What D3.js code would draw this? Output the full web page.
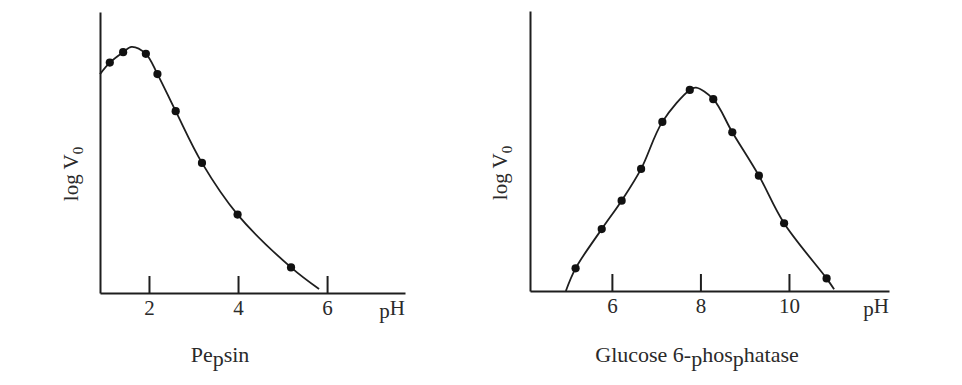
<!DOCTYPE html>
<html>
<head>
<meta charset="utf-8">
<script src="https://cdn.jsdelivr.net/npm/d3@7"></script>
<style>
  html, body { margin: 0; padding: 0; background: #fff; }
  svg { display: block; }
  text { font-family: "Liberation Serif", "DejaVu Serif", serif; fill: #2a2a2a; }
</style>
</head>
<body>
<svg id="chart" width="962" height="385"></svg>
<script>
// ---- Pepsin panel data ----
const pepsinPH      = [1.12, 1.42, 1.93, 2.19, 2.60, 3.19, 3.99, 5.19];
const pepsinLogV    = [0.820, 0.857, 0.851, 0.779, 0.647, 0.463, 0.279, 0.091];
const pepsinCurvePH   = [0.90, 1.12, 1.42, 1.61, 1.93, 2.19, 2.60, 3.19, 3.99, 5.19, 5.82];
const pepsinCurveLogV = [0.779, 0.820, 0.857, 0.876, 0.851, 0.779, 0.647, 0.463, 0.279, 0.091, 0.014];
const pepsinTicks   = [2, 4, 6];

// ---- Glucose 6-phosphatase panel data ----
const g6pPH      = [5.18, 5.77, 6.22, 6.66, 7.14, 7.76, 8.29, 8.72, 9.32, 9.89, 10.85];
const g6pLogV    = [0.081, 0.221, 0.3225, 0.436, 0.604, 0.718, 0.685, 0.567, 0.412, 0.242, 0.045];
const g6pCurvePH   = [4.96, 5.18, 5.77, 6.22, 6.66, 7.14, 7.76, 7.90, 8.29, 8.72, 9.32, 9.89, 10.85, 11.02];
const g6pCurveLogV = [0.000, 0.081, 0.221, 0.3225, 0.436, 0.604, 0.718, 0.726, 0.685, 0.567, 0.412, 0.242, 0.045, 0.006];
const g6pTicks   = [6, 8, 10];

const svg = d3.select("#chart");
const ink = "#1e1e1e";

function panel(cfg) {
  const g = svg.append("g");
  const x = d3.scaleLinear().domain(cfg.xDomain).range([cfg.left, cfg.right]);
  const y = d3.scaleLinear().domain([0, 1]).range([cfg.bottom, cfg.top]);

  // y axis (plain line)
  const ya = g.append("g").attr("transform", `translate(${cfg.left},0)`)
    .call(d3.axisLeft(y).ticks(0).tickSizeOuter(0));
  ya.select(".domain").attr("stroke", ink).attr("stroke-width", 2);

  // x axis with ticks pointing up
  const xa = g.append("g").attr("transform", `translate(0,${cfg.bottom})`)
    .call(d3.axisBottom(x).tickValues(cfg.ticks).tickFormat(d3.format("d"))
      .tickSizeInner(-17).tickSizeOuter(0).tickPadding(7));
  xa.select(".domain").attr("stroke", ink).attr("stroke-width", 2);
  xa.selectAll(".tick line").attr("stroke", ink).attr("stroke-width", 2);
  xa.selectAll(".tick text").attr("fill", "#2a2a2a")
    .style("font-family", '"Liberation Serif", serif').style("font-size", "21px");

  // curve
  const pts = cfg.curvePH.map((p, i) => [p, cfg.curveLogV[i]]);
  g.append("path").datum(pts)
    .attr("fill", "none").attr("stroke", ink).attr("stroke-width", 1.8)
    .attr("d", d3.line().x(d => x(d[0])).y(d => y(d[1])).curve(d3.curveCatmullRom.alpha(0.5)));

  // data points
  g.selectAll("circle.pt").data(cfg.ph.map((p, i) => [p, cfg.logv[i]])).join("circle")
    .attr("class", "pt").attr("cx", d => x(d[0])).attr("cy", d => y(d[1]))
    .attr("r", 4.1).attr("fill", "#111");

  // pH label (p slightly lowered, as in the source)
  const ph = g.append("text").attr("x", cfg.right).attr("y", cfg.bottom + 22)
    .attr("text-anchor", "end").style("font-size", "21px");
  ph.append("tspan").attr("dy", 3).text("p");
  ph.append("tspan").attr("dy", -3).text("H");

  // y label log V0
  const yl = g.append("text")
    .attr("transform", `translate(${cfg.ylabX},${cfg.ylabY}) rotate(-90)`)
    .attr("text-anchor", "middle").style("font-size", "21px");
  yl.append("tspan").text("log V");
  yl.append("tspan").attr("dy", 5).style("font-size", "15px").text("0");

  // title with lowered p's
  const t = g.append("text").attr("x", cfg.titleX).attr("y", 362)
    .attr("text-anchor", "middle").style("font-size", "22px");
  let prev = 0;
  cfg.titleParts.forEach(part => {
    const off = part === "p" ? 4 : 0;
    t.append("tspan").attr("dy", off - prev).text(part);
    prev = off;
  });
}

panel({
  xDomain: [0.9, 7.75], left: 100, right: 405, top: 12, bottom: 293,
  ticks: pepsinTicks, ph: pepsinPH, logv: pepsinLogV,
  curvePH: pepsinCurvePH, curveLogV: pepsinCurveLogV,
  ylabX: 78, ylabY: 174, titleX: 220,
  titleParts: ["Pe", "p", "sin"]
});

panel({
  xDomain: [4.15, 12.26], left: 530, right: 889, top: 11, bottom: 291,
  ticks: g6pTicks, ph: g6pPH, logv: g6pLogV,
  curvePH: g6pCurvePH, curveLogV: g6pCurveLogV,
  ylabX: 507, ylabY: 173, titleX: 697,
  titleParts: ["Glucose 6-", "p", "hos", "p", "hatase"]
});
</script>
</body>
</html>
